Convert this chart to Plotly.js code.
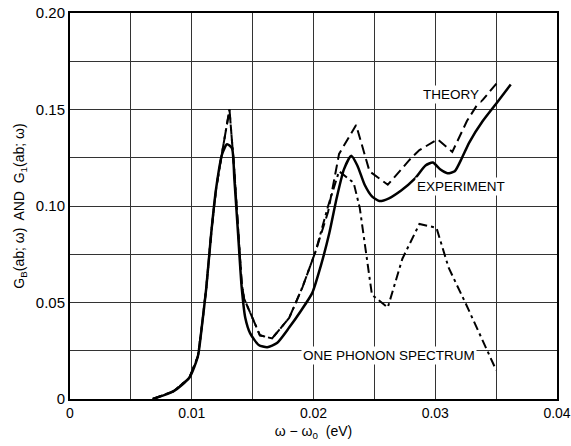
<!DOCTYPE html>
<html><head><meta charset="utf-8">
<script src="https://cdn.plot.ly/plotly-3.0.1.min.js"></script>
<style>html,body{margin:0;padding:0;background:#fff}#chart{width:571px;height:446px}</style>
</head><body><div id="chart"></div>
<script>
// Experiment (solid)
const expX = [0.0068,0.0085,0.0098,0.0105,0.0108,0.0112,0.0116,0.0120,0.0125,0.0129,0.0133,0.0135,0.0138,0.0141,0.0144,0.0148,0.0155,0.0162,0.0170,0.0180,0.0190,0.0199,0.0206,0.0213,0.0219,0.0225,0.0231,0.0236,0.0242,0.0248,0.0254,0.0262,0.0272,0.0283,0.0292,0.0298,0.0304,0.0310,0.0316,0.0322,0.0328,0.0339,0.0350,0.0362];
const expY = [0,0.004,0.011,0.022,0.036,0.058,0.086,0.109,0.127,0.132,0.130,0.114,0.086,0.058,0.042,0.034,0.028,0.0268,0.029,0.037,0.046,0.055,0.069,0.086,0.104,0.119,0.126,0.121,0.111,0.105,0.1026,0.104,0.108,0.114,0.121,0.1225,0.119,0.117,0.118,0.125,0.133,0.144,0.153,0.163];
// Theory (dashed)
const thX = [0.0068,0.0085,0.0098,0.0105,0.0108,0.0112,0.0116,0.0120,0.0125,0.0131,0.0135,0.0138,0.0141,0.0143,0.0156,0.0166,0.0180,0.0191,0.0202,0.0212,0.0221,0.0235,0.0246,0.0261,0.0279,0.0287,0.0302,0.0314,0.0326,0.0334,0.0339,0.0351];
const thY = [0,0.004,0.011,0.022,0.036,0.058,0.086,0.109,0.128,0.150,0.118,0.088,0.060,0.052,0.033,0.0314,0.042,0.058,0.077,0.097,0.127,0.142,0.118,0.111,0.124,0.129,0.1345,0.128,0.144,0.152,0.155,0.164];
// One phonon spectrum (dash-dot)
const opX = [0.0068,0.0085,0.0098,0.0105,0.0108,0.0112,0.0116,0.0120,0.0125,0.0131,0.0135,0.0138,0.0141,0.0143,0.0156,0.0166,0.0180,0.0191,0.0202,0.0212,0.0221,0.0233,0.0238,0.0248,0.0261,0.0273,0.0287,0.0301,0.0311,0.0325,0.0350];
const opY = [0,0.004,0.011,0.022,0.036,0.058,0.086,0.109,0.128,0.150,0.118,0.088,0.060,0.052,0.033,0.0314,0.042,0.058,0.077,0.100,0.118,0.112,0.099,0.054,0.0474,0.0727,0.0907,0.0887,0.068,0.0495,0.015];
// Ticks
const xTickVals = [0,0.01,0.02,0.03,0.04];
const xTickText = ["0","0.01","0.02","0.03","0.04"];
const yTickVals = [0,0.05,0.10,0.15,0.20];
const yTickText = ["0","0.05","0.10","0.15","0.20"];
const labels = ["THEORY","EXPERIMENT","ONE PHONON SPECTRUM"];

const FONT = "Liberation Sans, Arial, sans-serif";
const traces = [
  {x: thX, y: thY, mode: "lines", line: {color: "#000", width: 2, dash: "10px,5px"}, hoverinfo: "skip"},
  {x: opX, y: opY, mode: "lines", line: {color: "#000", width: 2, dash: "9px,4px,3px,4px"}, hoverinfo: "skip"},
  {x: expX, y: expY, mode: "lines", line: {color: "#000", width: 2.5, shape: "spline", smoothing: 0.6}, hoverinfo: "skip"}
];
const layout = {
  width: 571, height: 446,
  margin: {l: 70, r: 14, t: 13, b: 47},
  paper_bgcolor: "#fff", plot_bgcolor: "#fff",
  showlegend: false,
  font: {family: FONT, color: "#000", size: 14},
  xaxis: {
    range: [0, 0.04], tickmode: "array", tickvals: xTickVals, ticktext: xTickText,
    showgrid: true, gridcolor: "#333", gridwidth: 1,
    minor: {tickmode: "linear", tick0: 0, dtick: 0.005, showgrid: true, gridcolor: "#333", gridwidth: 1, ticks: ""},
    showline: true, mirror: true, linecolor: "#000", linewidth: 2,
    zeroline: false, ticks: "", tickfont: {size: 14, family: FONT},
    title: {text: "ω − ω<sub>0</sub>  (eV)", font: {size: 14, family: FONT}, standoff: 6}
  },
  yaxis: {
    range: [0, 0.20], tickmode: "array", tickvals: yTickVals, ticktext: yTickText,
    showgrid: true, gridcolor: "#333", gridwidth: 1,
    minor: {tickmode: "linear", tick0: 0, dtick: 0.025, showgrid: true, gridcolor: "#333", gridwidth: 1, ticks: ""},
    showline: true, mirror: true, linecolor: "#000", linewidth: 2,
    zeroline: false, ticks: "", tickfont: {size: 15, family: FONT},
    title: {text: "G<sub>B</sub>(ab; ω)  AND  G<sub>1</sub>(ab; ω)", font: {size: 14, family: FONT}, standoff: 8}
  },
  annotations: [
    {x: 0.03131, y: 0.1577, xref: "x", yref: "y", text: labels[0], showarrow: false, font: {size: 13.5, family: FONT}, bgcolor: "#fff"},
    {x: 0.03213, y: 0.1103, xref: "x", yref: "y", text: labels[1], showarrow: false, font: {size: 13.5, family: FONT}, bgcolor: "#fff"},
    {x: 0.02623, y: 0.0227, xref: "x", yref: "y", text: labels[2], showarrow: false, font: {size: 13.5, family: FONT}, bgcolor: "#fff"}
  ]
};
Plotly.newPlot("chart", traces, layout, {staticPlot: true, displayModeBar: false});
</script></body></html>
